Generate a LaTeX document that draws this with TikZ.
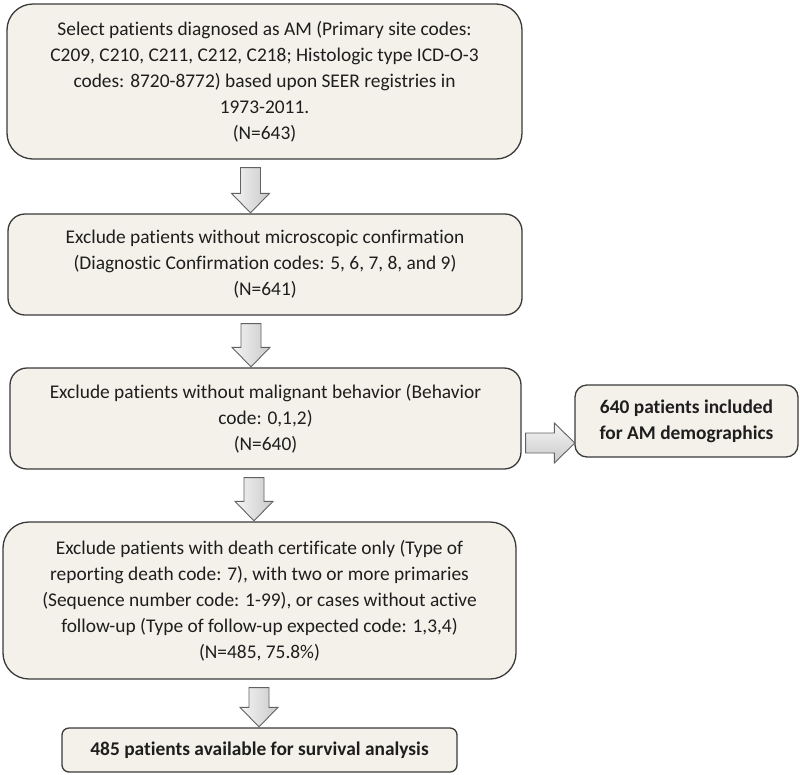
\documentclass[tikz,border=0pt]{standalone}
\usepackage{fontspec}
\setmainfont[RawFeature={-liga;-clig;-calt;-dlig}]{Carlito}
\usetikzlibrary{calc}
\definecolor{boxfill}{HTML}{F3F1E9}
\definecolor{boxline}{HTML}{3A3A3A}
\definecolor{txt}{HTML}{1E1E1E}
\tikzset{
  flowbox/.style={draw=boxline, line width=1.3pt, fill=boxfill, align=center,
    text=txt, inner sep=0pt, font=\fontsize{19.4}{26}\selectfont},
  boldbox/.style={flowbox, font=\fontsize{19.4}{26}\selectfont\bfseries},
  blockarrow/.style={draw=boxline!80, line width=0.9pt, line join=miter},
  vshade/.style={left color=gray!8, right color=gray!42},
  hshade/.style={top color=gray!8, bottom color=gray!42}
}
\newcommand\blockdown[3]{%
  \draw[blockarrow, vshade] let \p1=(#2.south), \p2=(#3.north) in
    ({#1pt-10pt},{\y1-8pt}) -- ({#1pt+10pt},{\y1-8pt}) -- ({#1pt+10pt},{\y2+20pt})
    -- ({#1pt+19pt},{\y2+20pt}) -- ({#1pt},{\y2+0.5pt}) -- ({#1pt-19pt},{\y2+20pt})
    -- ({#1pt-10pt},{\y2+20pt}) -- cycle;}
\begin{document}
\begin{tikzpicture}[x=1pt,y=-1pt]
\useasboundingbox (0,0) rectangle (800,774);

\node[flowbox, rounded corners=26pt, minimum width=515pt, minimum height=155pt] (b1) at (264.5,81.5)
  {Select patients diagnosed as AM (Primary site codes:\\
   C209, C210, C211, C212, C218; Histologic type ICD-O-3\\
   codes: 8720-8772) based upon SEER registries in\\
   1973-2011.\\
   (N=643)};

\node[flowbox, rounded corners=17pt, minimum width=514pt, minimum height=101pt] (b2) at (265,264.5)
  {Exclude patients without microscopic confirmation\\
   (Diagnostic Confirmation codes: 5, 6, 7, 8, and 9)\\
   (N=641)};

\node[flowbox, rounded corners=17pt, minimum width=511pt, minimum height=101pt] (b3) at (265.5,418.5)
  {Exclude patients without malignant behavior (Behavior\\
   code: 0,1,2)\\
   (N=640)};

\node[boldbox, rounded corners=12pt, minimum width=223pt, minimum height=72pt] (b4) at (686.5,421)
  {640 patients included\\ for AM demographics};

\node[flowbox, rounded corners=26pt, minimum width=513pt, minimum height=157pt] (b5) at (259.5,600.5)
  {Exclude patients with death certificate only (Type of\\
   reporting death code: 7), with two or more primaries\\
   (Sequence number code: 1-99), or cases without active\\
   follow-up (Type of follow-up expected code: 1,3,4)\\
   (N=485, 75.8\%)};

\node[boldbox, rounded corners=7pt, minimum width=395pt, minimum height=44pt] (b6) at (259.5,750)
  {485 patients available for survival analysis};

\blockdown{250.5}{b1}{b2}
\blockdown{251}{b2}{b3}
\blockdown{254}{b3}{b5}
\blockdown{259}{b5}{b6}

\draw[blockarrow, hshade] let \p1=(b3.east), \p2=(b4.west) in
  ({\x1+4pt},{\y2-12pt}) -- ({\x2-20pt},{\y2-12pt}) -- ({\x2-20pt},{\y2-2pt})
  -- ({\x2+0.5pt},{\y2-22pt}) -- ({\x2-20pt},{\y2-42pt}) -- ({\x2-20pt},{\y2-32pt})
  -- ({\x1+4pt},{\y2-32pt}) -- cycle;
\end{tikzpicture}
\end{document}
